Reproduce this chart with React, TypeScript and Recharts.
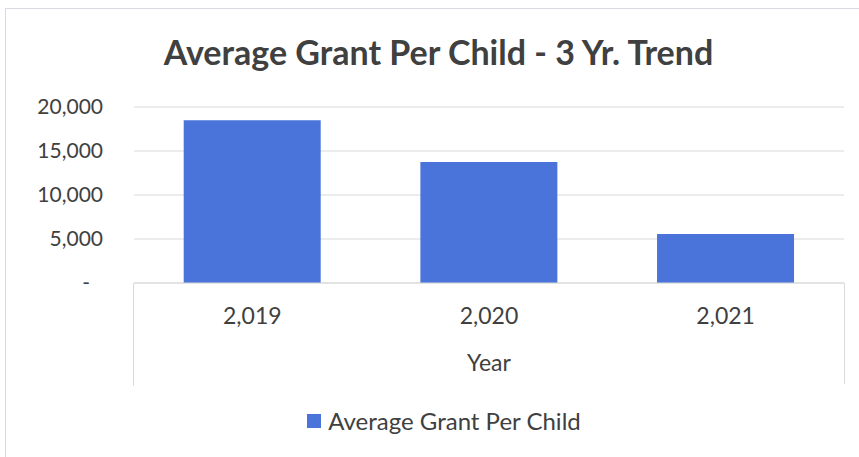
import { BarChart, Bar, XAxis, YAxis, CartesianGrid } from 'recharts'

// ─── Data ─────────────────────────────────────────────────────────────────────

const years = ['2,019', '2,020', '2,021']
const averageGrant = [18500, 13750, 5560]
const yTicks = [0, 5000, 10000, 15000, 20000]

const SERIES_NAME = 'Average Grant Per Child'
const TITLE = 'Average Grant Per Child - 3 Yr. Trend'

const data = years.map((year, i) => ({ year, grant: averageGrant[i] }))

const FONT = 'Lato, "Open Sans", sans-serif'
const TEXT = '#404040'
const GRID = '#d9d9d9'
const BAR = '#4a74da'

// ─── Y tick (Excel accounting style: zero shows as a dash) ────────────────────

function YTick({ x, y, payload }: { x?: number; y?: number; payload?: { value: number } }) {
  const v = payload?.value ?? 0
  const isZero = v === 0
  return (
    <text
      x={isZero ? (x ?? 0) - 13 : x}
      y={y}
      dy="0.35em"
      textAnchor="end"
      fontSize={21}
      fill={TEXT}
      fontFamily={FONT}
    >
      {isZero ? '-' : v.toLocaleString('en-US')}
    </text>
  )
}

// ─── Component ────────────────────────────────────────────────────────────────

export default function App() {
  return (
    <div
      style={{
        position: 'absolute',
        left: 0,
        top: 0,
        width: 859,
        height: 457,
        background: '#fff',
        fontFamily: FONT,
        overflow: 'hidden',
      }}
    >
      {/* outer chart border */}
      <div
        style={{
          position: 'absolute',
          left: 5,
          top: 8,
          width: 880,
          height: 470,
          border: '1px solid #d9d9e3',
        }}
      />

      <div
        style={{
          position: 'absolute',
          left: 0,
          top: 28,
          width: 877,
          textAlign: 'center',
          fontSize: 34,
          fontWeight: 700,
          color: TEXT,
          lineHeight: '48px',
        }}
      >
        {TITLE}
      </div>

      <div style={{ position: 'absolute', left: 0, top: 0 }}>
        <BarChart
          width={859}
          height={457}
          data={data}
          margin={{ top: 107, right: 15, bottom: 0, left: 0 }}
          barCategoryGap="21%"
        >
          <CartesianGrid horizontal vertical={false} stroke={GRID} />
          <XAxis
            dataKey="year"
            height={174}
            axisLine={{ stroke: GRID }}
            tickLine={false}
            tickSize={0}
            tickMargin={25}
            tick={{ fontSize: 23, fill: TEXT, fontFamily: FONT }}
            label={{
              value: 'Year',
              position: 'insideTop',
              offset: 72,
              fontSize: 23,
              fill: TEXT,
              fontFamily: FONT,
            }}
          />
          <YAxis
            width={134}
            domain={[0, 20000]}
            ticks={yTicks}
            axisLine={false}
            tickLine={false}
            tickSize={0}
            tickMargin={31}
            tick={<YTick />}
          />
          <Bar dataKey="grant" name={SERIES_NAME} fill={BAR} isAnimationActive={false} />
        </BarChart>
      </div>

      {/* category axis box edges */}
      <div style={{ position: 'absolute', left: 133, top: 283, width: 1, height: 103, background: GRID }} />
      <div style={{ position: 'absolute', left: 844, top: 283, width: 1, height: 101, background: GRID }} />

      {/* legend */}
      <div
        style={{
          position: 'absolute',
          left: 0,
          top: 406,
          width: 888,
          display: 'flex',
          justifyContent: 'center',
          alignItems: 'center',
          fontSize: 24,
          color: TEXT,
          lineHeight: '30px',
        }}
      >
        <span style={{ display: 'inline-block', width: 14, height: 14, background: BAR, marginRight: 7 }} />
        {SERIES_NAME}
      </div>
    </div>
  )
}
